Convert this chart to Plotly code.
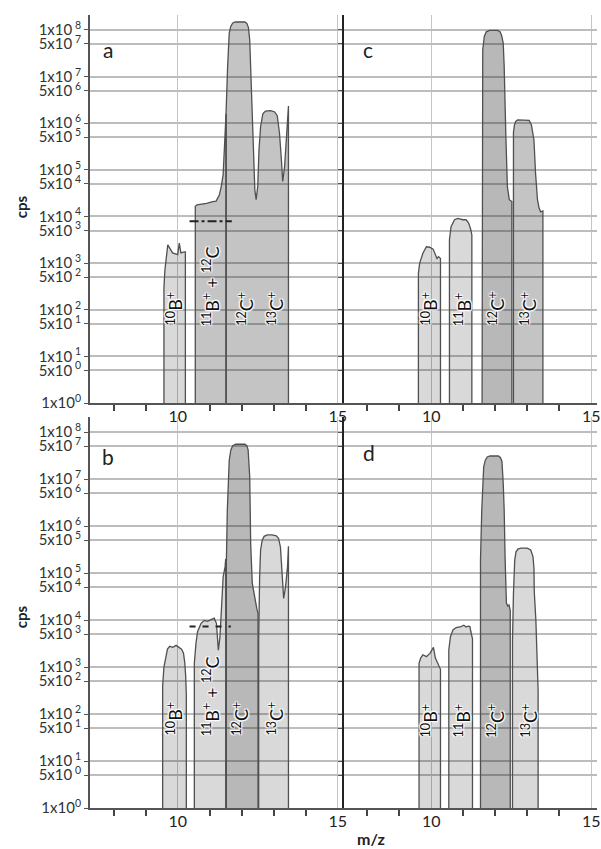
import plotly.graph_objects as go
from plotly.subplots import make_subplots

FONT = "Lato"

# ---------------- axis ticks ----------------
X_MAJOR = [10, 15]
X_MAJOR_TEXT = ["10", "15"]
X_MINOR = [8, 9, 11, 12, 13, 14]
Y_EXP_ONE = [0, 1, 2, 3, 4, 5, 6, 7, 8]      # 1x10^n
Y_EXP_FIVE = [0, 1, 2, 3, 4, 5, 6, 7]        # 5x10^n

# ---------------- panel a (m/z, log10 cps) ----------------
A_10B_X = [9.57, 9.57, 9.60, 9.69, 9.84, 10.0, 10.05, 10.10, 10.21, 10.24, 10.24]
A_10B_LOG = [0, 2.47, 2.85, 3.39, 3.22, 3.18, 3.43, 3.22, 3.24, 3.24, 0]
A_11B12C_X = [10.55, 10.55, 10.60, 10.90, 11.10, 11.20, 11.30, 11.36, 11.42, 11.47, 11.51, 11.51]
A_11B12C_LOG = [0, 4.22, 4.25, 4.28, 4.32, 4.33, 4.46, 4.64, 4.90, 5.60, 6.20, 0]
A_12C13C_X = [11.51, 11.51, 11.56, 11.61, 11.66, 11.72, 11.80, 12.10, 12.16, 12.21, 12.25, 12.29,
              12.35, 12.41, 12.45, 12.50, 12.54, 12.59, 12.66, 12.74, 12.90, 13.03, 13.11, 13.18,
              13.24, 13.28, 13.34, 13.39, 13.44, 13.46, 13.46]
A_12C13C_LOG = [0, 6.20, 7.22, 7.93, 8.08, 8.15, 8.17, 8.17, 8.14, 8.05, 7.79, 6.86,
                5.43, 4.57, 4.36, 4.64, 5.43, 5.93, 6.20, 6.26, 6.27, 6.24, 6.16, 5.79,
                5.21, 4.75, 5.07, 5.64, 6.22, 6.37, 0]
A_LINE_X = [10.37, 11.69]
A_LINE_LOG = [3.9, 3.9]

# ---------------- panel c ----------------
C_10B_X = [9.60, 9.60, 9.64, 9.74, 9.85, 9.95, 10.06, 10.13, 10.18, 10.23, 10.29, 10.29]
C_10B_LOG = [0, 2.78, 3.0, 3.21, 3.35, 3.34, 3.30, 3.20, 3.10, 3.14, 3.10, 0]
C_11B_X = [10.57, 10.57, 10.62, 10.73, 10.83, 10.99, 11.09, 11.17, 11.24, 11.27, 11.27]
C_11B_LOG = [0, 3.5, 3.78, 3.93, 3.96, 3.93, 3.93, 3.86, 3.71, 3.6, 0]
C_12C_X = [11.59, 11.59, 11.61, 11.66, 11.72, 11.82, 12.07, 12.15, 12.20, 12.25, 12.28, 12.33,
           12.38, 12.44, 12.52, 12.52]
C_12C_LOG = [0, 6.43, 7.58, 7.86, 7.96, 7.99, 7.99, 7.96, 7.88, 7.72, 7.22, 5.79,
             4.64, 4.36, 4.32, 0]
C_13C_X = [12.57, 12.57, 12.60, 12.64, 12.70, 12.90, 13.06, 13.13, 13.21, 13.26, 13.32, 13.37,
           13.42, 13.49, 13.49]
C_13C_LOG = [0, 5.8, 5.96, 6.04, 6.07, 6.07, 6.06, 5.97, 5.64, 4.93, 4.36, 4.18,
             4.10, 4.12, 0]

# ---------------- panel b ----------------
B_10B_X = [9.53, 9.53, 9.57, 9.62, 9.68, 9.75, 9.85, 9.95, 10.05, 10.12, 10.18, 10.22, 10.25, 10.27, 10.27]
B_10B_LOG = [0, 2.6, 3.0, 3.2, 3.38, 3.44, 3.42, 3.46, 3.42, 3.38, 3.3, 3.1, 2.8, 2.4, 0]
B_11B12C_X = [10.52, 10.52, 10.57, 10.62, 10.73, 10.83, 10.93, 11.04, 11.14, 11.21, 11.25,
              11.27, 11.32, 11.38, 11.42, 11.48, 11.50, 11.50]
B_11B12C_LOG = [0, 3.08, 3.5, 3.75, 3.93, 3.99, 3.97, 4.01, 4.04, 3.93, 3.5,
                3.36, 3.64, 4.36, 4.92, 5.13, 5.3, 0]
B_12C_X = [11.52, 11.52, 11.55, 11.61, 11.66, 11.72, 11.81, 12.10, 12.16, 12.20, 12.25, 12.28,
           12.33, 12.43, 12.48, 12.51, 12.51]
B_12C_LOG = [0, 5.2, 6.34, 7.4, 7.62, 7.71, 7.74, 7.74, 7.71, 7.62, 7.05, 5.63,
             4.78, 4.36, 4.21, 4.15, 0]
B_13C_X = [12.53, 12.53, 12.56, 12.59, 12.64, 12.70, 12.80, 12.95, 13.08, 13.15, 13.21, 13.24,
           13.28, 13.31, 13.37, 13.43, 13.46, 13.46]
B_13C_LOG = [0, 3.57, 4.92, 5.49, 5.70, 5.78, 5.81, 5.81, 5.79, 5.74, 5.55, 5.13,
             4.71, 4.46, 4.71, 5.13, 5.57, 0]
B_LINE_X = [10.37, 11.66]
B_LINE_LOG = [3.86, 3.86]

# ---------------- panel d ----------------
D_10B_X = [9.62, 9.62, 9.67, 9.74, 9.85, 9.96, 10.02, 10.07, 10.13, 10.21, 10.26, 10.29, 10.29]
D_10B_LOG = [0, 3.08, 3.19, 3.26, 3.22, 3.29, 3.36, 3.42, 3.19, 3.08, 3.01, 2.95, 0]
D_11B_X = [10.55, 10.55, 10.60, 10.68, 10.78, 10.93, 11.02, 11.09, 11.16, 11.21, 11.24, 11.29, 11.29]
D_11B_LOG = [0, 3.36, 3.64, 3.79, 3.84, 3.86, 3.89, 3.85, 3.87, 3.86, 3.75, 3.6, 0]
D_12C_X = [11.54, 11.54, 11.58, 11.64, 11.69, 11.75, 11.84, 12.10, 12.16, 12.21, 12.25, 12.28,
           12.31, 12.35, 12.39, 12.43, 12.47, 12.47]
D_12C_LOG = [0, 5.28, 6.34, 7.26, 7.40, 7.47, 7.49, 7.49, 7.46, 7.38, 6.91, 6.34,
             5.28, 4.36, 4.30, 4.32, 4.20, 0]
D_13C_X = [12.54, 12.54, 12.57, 12.61, 12.65, 12.71, 12.80, 13.00, 13.11, 13.18, 13.21, 13.22,
           13.27, 13.31, 13.34, 13.34]
D_13C_LOG = [0, 3.57, 4.57, 5.28, 5.45, 5.51, 5.53, 5.53, 5.49, 5.35, 5.10, 4.60,
             4.00, 3.20, 2.50, 0]

# ---------------- labels ----------------
LBL_10B = "<sup>10</sup>B<sup>+</sup>"
LBL_11B = "<sup>11</sup>B<sup>+</sup>"
LBL_11B12C = "<sup>11</sup>B<sup>+</sup> + <sup>12</sup>C"
LBL_12C = "<sup>12</sup>C<sup>+</sup>"
LBL_13C = "<sup>13</sup>C<sup>+</sup>"

A_LABELS = [LBL_10B, LBL_11B12C, LBL_12C, LBL_13C]
A_LABEL_X = [9.9, 11.05, 12.13, 13.06]
A_LABEL_LOG = 1.61
C_LABELS = [LBL_10B, LBL_11B, LBL_12C, LBL_13C]
C_LABEL_X = [9.95, 11.0, 12.04, 13.05]
C_LABEL_LOG = 1.61
B_LABELS = [LBL_10B, LBL_11B12C, LBL_12C, LBL_13C]
B_LABEL_X = [9.9, 11.05, 11.97, 13.06]
B_LABEL_LOG = 1.49
D_LABELS = [LBL_10B, LBL_11B, LBL_12C, LBL_13C]
D_LABEL_X = [9.95, 10.98, 12.02, 13.08]
D_LABEL_LOG = 1.45

LIGHT = "rgba(0,0,0,0.15)"
MED = "rgba(0,0,0,0.23)"
DARK = "rgba(0,0,0,0.28)"

PANELS = {
    (1, 1): dict(letter="a", peaks=[(A_10B_X, A_10B_LOG, LIGHT), (A_11B12C_X, A_11B12C_LOG, MED),
                                    (A_12C13C_X, A_12C13C_LOG, MED)],
                 labels=(A_LABELS, A_LABEL_X, A_LABEL_LOG), line=(A_LINE_X, A_LINE_LOG, "dashdot")),
    (1, 2): dict(letter="c", peaks=[(C_10B_X, C_10B_LOG, LIGHT), (C_11B_X, C_11B_LOG, LIGHT),
                                    (C_12C_X, C_12C_LOG, DARK), (C_13C_X, C_13C_LOG, MED)],
                 labels=(C_LABELS, C_LABEL_X, C_LABEL_LOG), line=None),
    (2, 1): dict(letter="b", peaks=[(B_10B_X, B_10B_LOG, LIGHT), (B_11B12C_X, B_11B12C_LOG, LIGHT),
                                    (B_12C_X, B_12C_LOG, DARK), (B_13C_X, B_13C_LOG, LIGHT)],
                 labels=(B_LABELS, B_LABEL_X, B_LABEL_LOG), line=(B_LINE_X, B_LINE_LOG, "6px,7px")),
    (2, 2): dict(letter="d", peaks=[(D_10B_X, D_10B_LOG, LIGHT), (D_11B_X, D_11B_LOG, LIGHT),
                                    (D_12C_X, D_12C_LOG, DARK), (D_13C_X, D_13C_LOG, LIGHT)],
                 labels=(D_LABELS, D_LABEL_X, D_LABEL_LOG), line=None),
}

fig = make_subplots(rows=2, cols=2, horizontal_spacing=0, vertical_spacing=0.02)

halo = ("1px 1px 1px white, -1px -1px 1px white, 1px -1px 1px white, -1px 1px 1px white, "
        "0 0 3px white")

for (r, c), p in PANELS.items():
    for xs, logs, col in p["peaks"]:
        fig.add_trace(go.Scatter(x=xs, y=[10 ** v for v in logs], mode="lines", fill="toself",
                                 fillcolor=col, line=dict(color="#505050", width=1.3),
                                 hoverinfo="skip", showlegend=False), row=r, col=c)
    if p["line"] is not None:
        lx, llog, dash = p["line"]
        fig.add_trace(go.Scatter(x=lx, y=[10 ** v for v in llog], mode="lines",
                                 line=dict(color="#222", width=2, dash=dash),
                                 hoverinfo="skip", showlegend=False), row=r, col=c)
    texts, xs, ylog = p["labels"]
    for t, x in zip(texts, xs):
        fig.add_annotation(x=x, y=ylog, text=t, textangle=-90, showarrow=False,
                           xanchor="center", yanchor="bottom",
                           font=dict(family=FONT, size=18, color="#111", shadow=halo),
                           row=r, col=c)

y_vals = sorted([10 ** e for e in Y_EXP_ONE] + [5 * 10 ** e for e in Y_EXP_FIVE])
y_text = []
for v in y_vals:
    s = f"{v:.0e}"
    mant, ex = s.split("e")
    y_text.append(f"{int(mant)}x10<sup> {int(ex)}</sup>" if v > 1 else "1x10<sup>0</sup>")

row_dom = {1: [0.5107, 1.0], 2: [0.0, 0.4931]}
col_dom = {1: [0.0, 0.5], 2: [0.5, 1.0]}

for r in (1, 2):
    for c in (1, 2):
        fig.update_xaxes(row=r, col=c, domain=col_dom[c], range=[7.26, 15.18],
                         tickvals=X_MAJOR, ticktext=X_MAJOR_TEXT, ticks="outside", ticklen=0,
                         ticklabelstandoff=-2,
                         showgrid=True, gridcolor="#c4c4c4", gridwidth=1, zeroline=False,
                         showline=True, linecolor="#555", linewidth=2,
                         tickfont=dict(family=FONT, size=16, color="#222"),
                         minor=dict(tickvals=X_MINOR, ticks="outside", ticklen=6,
                                    tickcolor="#444", tickwidth=1.5, showgrid=False))
        fig.update_yaxes(row=r, col=c, domain=row_dom[r], type="log", range=[0, 8.32],
                         tickvals=y_vals, ticktext=y_text, ticks="outside", ticklen=4,
                         tickcolor="#555", showgrid=True, gridcolor="#bdbdbd", gridwidth=1.5,
                         zeroline=False, showline=True,
                         linecolor="#555" if c == 1 else "#222", linewidth=2,
                         showticklabels=(c == 1),
                         tickfont=dict(family=FONT, size=15, color="#333"))

# panel letters
LETTER_POS = {"a": (0.035, 0.956), "c": (0.549, 0.956), "b": (0.035, 0.443), "d": (0.551, 0.448)}
for letter, (lx, ly) in LETTER_POS.items():
    fig.add_annotation(xref="paper", yref="paper", x=lx, y=ly, text=letter, showarrow=False,
                       xanchor="center", yanchor="middle",
                       font=dict(family=FONT, size=21, color="#222"))

# axis titles
for ly in (0.758, 0.241):
    fig.add_annotation(xref="paper", yref="paper", x=-70 / 510, y=ly, text="<b>cps</b>",
                       textangle=-90, showarrow=False, xanchor="center", yanchor="middle",
                       font=dict(family=FONT, size=15, color="#222"))
fig.add_annotation(xref="paper", yref="paper", x=0.555, y=-0.038, text="<b>m/z</b>",
                   showarrow=False, xanchor="center", yanchor="middle",
                   font=dict(family=FONT, size=16, color="#222"))

fig.update_layout(width=601, height=849, margin=dict(l=90, r=1, t=15, b=41),
                  plot_bgcolor="white", paper_bgcolor="white", showlegend=False)

fig.write_html("out.html")
